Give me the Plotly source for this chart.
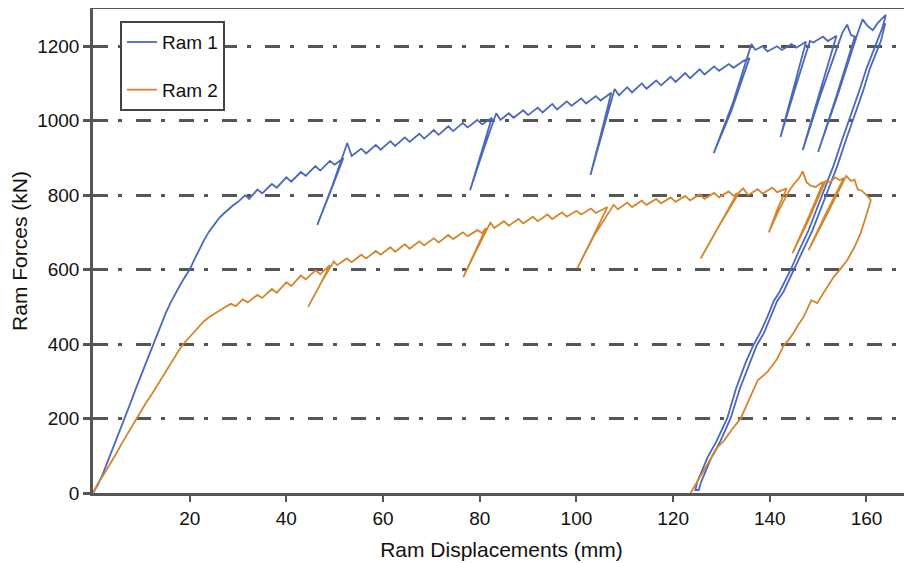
import plotly.graph_objects as go

# Ram 1 (blue) displacement (mm) / force (kN)
ram1_x = [0, 1, 2, 3, 4, 5, 6, 7, 8, 9, 10, 11, 12, 13, 14, 15, 16, 17, 18, 19, 20,
          21, 22, 23, 24, 25, 26, 27, 28, 29, 30, 31.5, 32.3, 34, 35, 37, 38, 40, 41,
          43, 44, 46, 47, 49, 50, 51.8,
          49, 46.4, 49.5, 52.6,
          53.5, 55.5, 56.5, 58.5, 59.5, 61.5, 62.5, 64.5, 65.5, 67.5, 68.5, 70.5, 71.5,
          73.5, 74.5, 76.5, 77.5, 79.5, 80.5, 82.5,
          80.2, 78, 80.6, 83.4,
          84.3, 86, 87, 89, 90, 92, 93, 95, 96, 98, 99, 101, 102, 104, 105, 107.2,
          105, 102.9, 105.3, 107.9,
          108.8, 110.5, 111.5, 113.5, 114.5, 116.5, 117.5, 119.5, 120.5, 122.5, 123.5,
          125.5, 126.5, 128.5, 129.5, 131.5, 132.5, 134.5, 135.8,
          132, 128.4, 132.3, 136.2,
          137, 138.5, 139.5, 141.5, 142.5, 144.5, 145.5, 147.5,
          145, 142.2, 145.2, 148.3,
          149, 151, 152, 153.8,
          150.3, 146.8, 150.5, 154.3,
          155, 156, 156.8, 157.6,
          154, 150, 154.2, 158.1,
          159.2, 160.2, 161.3, 162.3, 163.2, 164,
          163.3, 162.3, 161.3, 160, 158.5, 156.7, 155, 153.2, 151, 148, 146, 144.3, 142,
          140.8, 139.5, 138, 136.6, 135, 133, 131.2, 129, 127.1, 126, 125, 124.6,
          125.3, 125.8, 126.8, 127.9, 129.8, 131.9, 133.8, 135.8, 137.3, 138.8, 140.2,
          141.5, 142.8, 145, 146.8, 148.8, 151.8, 154, 155.8, 157.5, 159.3, 160.7, 162,
          163, 163.9]
ram1_y = [0, 22, 50, 85, 118, 150, 183, 215, 250, 285, 318, 352, 388, 420, 452, 482, 510, 535, 558, 580, 600,
          628, 655, 680, 702, 720, 737, 750, 762, 773, 782, 800, 790, 815, 805, 830, 820, 848, 836,
          862, 852, 878, 866, 892, 882, 900,
          805, 720, 825, 940,
          905, 925, 912, 935, 922, 945, 932, 955, 943, 965, 952, 975, 962,
          985, 972, 994, 982, 1002, 990, 1008,
          905, 813, 915, 1020,
          1002, 1020, 1008, 1028, 1015, 1035, 1022, 1045, 1030, 1052, 1040, 1060, 1046, 1066, 1054, 1075,
          960, 854, 965, 1085,
          1068, 1090, 1076, 1100, 1086, 1108, 1095, 1118, 1104, 1128, 1114,
          1138, 1124, 1146, 1134, 1152, 1142, 1160, 1168,
          1025, 913, 1045, 1206,
          1190, 1200, 1186, 1200, 1190, 1206, 1196, 1212,
          1090, 956, 1085, 1214,
          1210, 1226, 1214, 1228,
          1075, 921, 1070, 1215,
          1236, 1258, 1230, 1226,
          1075, 916, 1075, 1232,
          1272, 1255, 1243, 1262, 1275, 1284,
          1250, 1215, 1185, 1140, 1080, 1015, 950, 880, 805, 705, 650, 599, 540,
          515, 473, 430, 397, 350, 280, 201, 140, 95, 60, 30, 8,
          8, 30, 60, 95, 140, 201, 280, 350, 397, 430, 473,
          515, 540, 599, 650, 705, 805, 880, 950, 1015, 1080, 1140, 1185,
          1215, 1262]

# Ram 2 (orange) displacement (mm) / force (kN)
ram2_x = [0, 1, 2, 3, 4, 5, 6, 7, 8, 9, 10, 11, 12, 13, 14, 15, 16, 17, 18, 19, 20,
          21, 22, 23, 24, 25, 26, 27, 28.5, 29.5, 31, 32, 34, 35, 37, 38, 40, 41, 43, 44,
          46, 47, 49,
          46.8, 44.5, 47.2, 49.8,
          50.5, 52.5, 53.5, 55.5, 56.5, 58.5, 59.5, 61.5, 62.5, 64.5, 65.5, 67.5, 68.5,
          70.5, 71.5, 73.5, 74.5, 76.5, 77.5, 79.5, 80.5, 81.3,
          79, 76.6, 79.3, 82.2,
          83, 85, 86, 88, 89, 91, 92, 94, 95, 97, 98, 100, 101, 103, 104, 106.4,
          103.3, 100.2, 103.6, 107.7,
          108.6, 110.5, 111.5, 113.5, 114.5, 116.5, 117.5, 119.5, 120.5, 122.5, 123.5,
          125.5, 126.5, 128.5, 129.5, 131.5, 132.5, 133.3,
          129.5, 125.7, 129.7, 133.8,
          134.5, 135.5, 137.5, 138.5, 140.5, 141.5, 143.5,
          141.5, 139.8, 141.8, 144,
          145, 146, 146.8, 147.6, 148.5, 149.5, 150.5, 151.1,
          148, 144.7, 148.2, 151.5,
          152.5, 153.5, 154.5, 155.3,
          151.6, 148, 151.8, 155.8,
          156.8, 157.5, 158.2, 159, 160, 160.9,
          160.3, 159.6, 158.8, 157.5, 156, 154.5, 153.2, 151.1, 149.8, 148.6, 147, 145.8, 145,
          143.8, 142.9, 141.5, 139.5, 137.5, 136, 134, 132, 130.5, 129.2, 127.5, 126, 124.8, 123.6]
ram2_y = [0, 25, 45, 66, 90, 110, 134, 156, 178, 200, 222, 243, 262, 283, 305, 325, 345, 366, 388, 405, 420,
          435, 450, 462, 472, 481, 489, 497, 508, 502, 520, 512, 532, 524, 548, 538, 566, 556, 584, 574,
          598, 588, 612,
          555, 500, 565, 622,
          612, 630, 620, 640, 630, 650, 640, 660, 648, 668, 656, 676, 665,
          684, 673, 693, 682, 700, 690, 706, 698, 712,
          645, 580, 652, 726,
          712, 730, 718, 736, 724, 742, 730, 748, 736, 754, 742, 758, 748, 764, 752, 768,
          685, 604, 690, 774,
          762, 780, 768, 785, 774, 790, 778, 794, 782, 798, 786,
          802, 790, 806, 794, 810, 798, 806,
          718, 630, 722, 810,
          818, 800, 816, 804, 820, 808, 818,
          760, 700, 758, 812,
          830, 845, 864, 835, 825, 822, 832, 836,
          740, 644, 738, 838,
          835, 848, 840, 846,
          750, 652, 748, 852,
          838, 842, 815, 812, 800, 787,
          760, 730, 698, 660, 625, 600, 580, 537, 510, 518, 473, 450, 432,
          410, 397, 360, 325, 303, 260, 201, 168, 140, 123, 85, 50, 25, 0]

tick_x = [20, 40, 60, 80, 100, 120, 140, 160]
tick_y = [0, 200, 400, 600, 800, 1000, 1200]

fig = go.Figure()
fig.add_trace(go.Scatter(x=ram1_x, y=ram1_y, mode="lines", name="Ram 1",
                         legendgroup="r1",
                         line=dict(color="#4a68bd", width=1.8)))
fig.add_trace(go.Scatter(x=ram2_x, y=ram2_y, mode="lines", name="Ram 2",
                         legendgroup="r2",
                         line=dict(color="#d5862c", width=1.8)))

fig.update_layout(
    width=912, height=563,
    margin=dict(l=85, r=10, t=1, b=78),
    plot_bgcolor="white", paper_bgcolor="white",
    font=dict(family="Liberation Sans, Arial, sans-serif", size=19, color="#111"),
    showlegend=True,
    legend=dict(x=0.033, y=0.975, xanchor="left", yanchor="top",
                bordercolor="#444", borderwidth=2, bgcolor="white",
                font=dict(size=19), tracegroupgap=20, itemwidth=30),
)
fig.update_xaxes(range=[0, 169], tickvals=tick_x, ticks="outside", ticklen=6,
                 tickwidth=2, tickcolor="#555", showline=True, linecolor="#555",
                 linewidth=2.5, mirror=True, showgrid=False, zeroline=False,
                 automargin=False,
                 title=dict(text="Ram Displacements (mm)", font=dict(size=21), standoff=15))
fig.update_yaxes(range=[0, 1300], tickvals=tick_y, ticks="outside", ticklen=7,
                 tickwidth=3, tickcolor="#555", showline=True, linecolor="#555",
                 linewidth=2.5, mirror=True, showgrid=True, gridcolor="#555",
                 gridwidth=3, griddash="15px,10px,4px,14px", zeroline=False,
                 automargin=False,
                 title=dict(text="Ram Forces (kN)", font=dict(size=21), standoff=8))

fig.write_html("out.html")
